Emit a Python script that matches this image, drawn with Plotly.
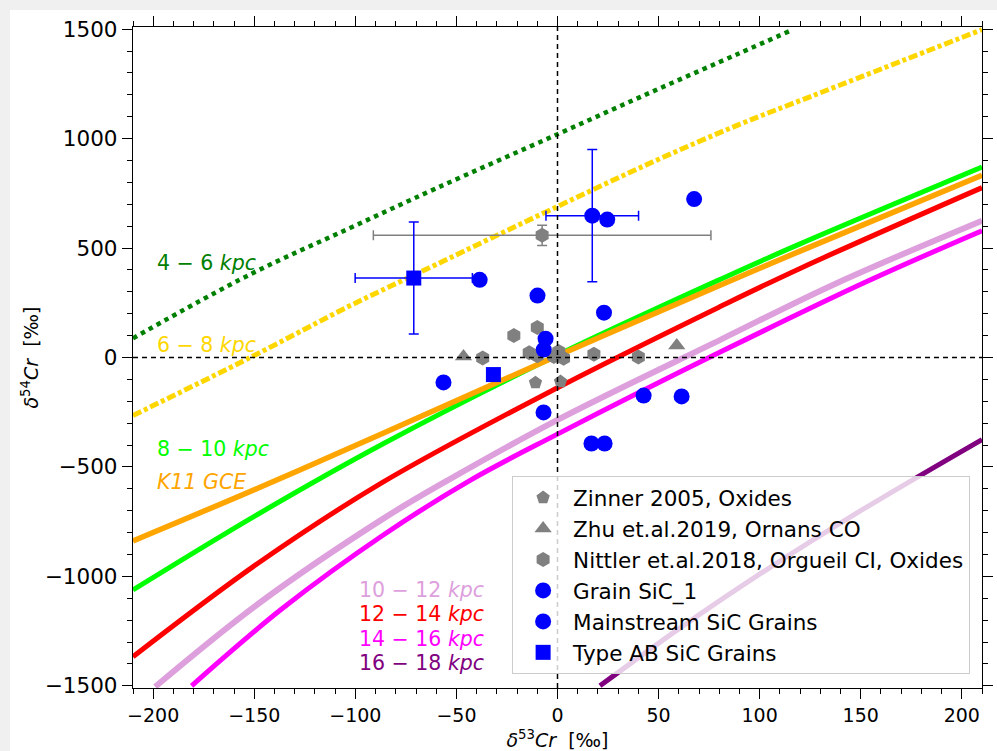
import plotly.graph_objects as go

# ---------------- data -----------------
kpc4_6_x = [-210, -152, -103, -60, 0, 47, 90, 115]
kpc4_6_y = [88, 380, 590, 773, 1020, 1215, 1390, 1492]

kpc6_8_x = [-210, -152, -103, -88, -60, 0, 47, 90, 126, 210]
kpc6_8_y = [-265, 0, 235, 302, 425, 690, 893, 1065, 1195, 1498]

kpc8_10_x = [-210, -148, -86, 0, 81, 120, 210]
kpc8_10_y = [-1062, -715, -393, 11, 359, 519, 870]

k11_x = [-210, -148, -86, 0, 81, 120, 210]
k11_y = [-838, -596, -345, 8, 332, 486, 833]

kpc12_14_x = [-210, -148, -87, 0, 81, 120, 210]
kpc12_14_y = [-1367, -939, -573, -138, 235, 407, 776]

kpc10_12_x = [-199, -148, -86, -55, 0, 81, 137, 210]
kpc10_12_y = [-1504, -1125, -735, -565, -285, 83, 335, 625]

kpc14_16_x = [-181, -136, -86, -43, 0, 81, 153, 210]
kpc14_16_y = [-1500, -1146, -810, -560, -350, 27, 347, 579]

kpc16_18_x = [21, 60, 100, 150, 210]
kpc16_18_y = [-1500, -1240, -990, -700, -375]

zinner_x = [-10.9, 1.5]
zinner_y = [-115, -110]

zhu_x = [-46.5, 59]
zhu_y = [5, 55]

nittler_x = [-7.6, -21.6, -10, -14, -10, 0.6, -1.8, 3, 18, -37, 40]
nittler_y = [558, 100, 137, 22, 8, 27, 5, -3, 15, -2, 2]
nittler_ex = [83.5, 0, 0, 0, 0, 0, 0, 0, 0, 0, 0]
nittler_ey = [46, 0, 0, 0, 0, 0, 0, 0, 0, 0, 0]

sic1_x = [17.2]
sic1_y = [648]
sic1_ex = [22.9]
sic1_ey = [302]

ms_x = [-38.5, -56.4, -9.9, -5.9, -6.8, -6.9, 16.8, 23.3, 42.6, 61.4, 23.0, 24.6, 67.6]
ms_y = [355, -114, 283, 86, 36, -251, -393, -393, -174, -178, 205, 630, 724]

ab_x = [-71.1, -31.7]
ab_y = [363, -78]
ab_ex = [29, 0]
ab_ey = [256, 0]

lab_text = ["4 − 6 <i>kpc</i>", "6 − 8 <i>kpc</i>", "8 − 10 <i>kpc</i>", "<i>K11 GCE</i>",
            "10 − 12 <i>kpc</i>", "12 − 14 <i>kpc</i>", "14 − 16 <i>kpc</i>", "16 − 18 <i>kpc</i>"]
lab_x = [-199, -199, -199, -199, -99, -99, -99, -99]
lab_y = [430, 59, -416, -567, -1061, -1171, -1285, -1395]
lab_col = ["green", "gold", "lime", "orange", "plum", "red", "magenta", "purple"]

FONT = "DejaVu Sans"

fig = go.Figure()

curves = [
    (kpc4_6_x, kpc4_6_y, "green", "dot", 4.5),
    (kpc6_8_x, kpc6_8_y, "gold", "9px,3px,4px,3px", 5),
    (kpc8_10_x, kpc8_10_y, "lime", "solid", 5),
    (k11_x, k11_y, "orange", "solid", 5.5),
    (kpc12_14_x, kpc12_14_y, "red", "solid", 5),
    (kpc10_12_x, kpc10_12_y, "plum", "solid", 6),
    (kpc14_16_x, kpc14_16_y, "magenta", "solid", 5),
    (kpc16_18_x, kpc16_18_y, "purple", "solid", 5),
]
for cx, cy, col, dash, w in curves:
    fig.add_trace(go.Scatter(x=cx, y=cy, mode="lines", showlegend=False,
                             line=dict(color=col, width=w, dash=dash, shape="spline", smoothing=1.0),
                             hoverinfo="skip"))

fig.add_shape(type="line", xref="x", yref="y", x0=-210, x1=210, y0=0, y1=0,
              line=dict(color="black", width=1.5, dash="5px,4px"))
fig.add_shape(type="line", xref="x", yref="y", x0=0, x1=0, y0=-1510, y1=1510,
              line=dict(color="black", width=1.5, dash="5px,4px"))

fig.add_trace(go.Scatter(x=zinner_x, y=zinner_y, mode="markers", name="Zinner 2005, Oxides",
                         legendgroup="g1",
                         marker=dict(symbol="pentagon", size=14, color="gray")))
fig.add_trace(go.Scatter(x=zhu_x, y=zhu_y, mode="markers", name="Zhu et.al.2019, Ornans CO",
                         legendgroup="g2",
                         marker=dict(symbol="triangle-up", size=15, color="gray")))
fig.add_trace(go.Scatter(x=nittler_x, y=nittler_y, mode="markers",
                         name="Nittler et.al.2018, Orgueil CI, Oxides", legendgroup="g3",
                         marker=dict(symbol="hexagon", size=15, color="gray"),
                         error_x=dict(type="data", array=nittler_ex, color="gray", thickness=1.5, width=5),
                         error_y=dict(type="data", array=nittler_ey, color="gray", thickness=1.5, width=5)))
fig.add_trace(go.Scatter(x=sic1_x, y=sic1_y, mode="markers", name="Grain SiC_1", legendgroup="g4",
                         marker=dict(symbol="circle", size=16, color="blue"),
                         error_x=dict(type="data", array=sic1_ex, color="blue", thickness=1.5, width=5),
                         error_y=dict(type="data", array=sic1_ey, color="blue", thickness=1.5, width=5)))
fig.add_trace(go.Scatter(x=ms_x, y=ms_y, mode="markers", name="Mainstream SiC Grains", legendgroup="g5",
                         marker=dict(symbol="circle", size=16, color="blue")))
fig.add_trace(go.Scatter(x=ab_x, y=ab_y, mode="markers", name="Type AB SiC Grains", legendgroup="g6",
                         marker=dict(symbol="square", size=15, color="blue"),
                         error_x=dict(type="data", array=ab_ex, color="blue", thickness=1.5, width=5),
                         error_y=dict(type="data", array=ab_ey, color="blue", thickness=1.5, width=5)))

for t, x, y, c in zip(lab_text, lab_x, lab_y, lab_col):
    fig.add_annotation(x=x, y=y, xref="x", yref="y", text=t, showarrow=False,
                       xanchor="left", yanchor="middle",
                       font=dict(family=FONT, size=20.5, color=c))

W, H = 997, 751
L, R, T, B = 133, 15, 27, 63
pw, ph = W - L - R, H - T - B
fig.add_shape(type="rect", xref="paper", yref="paper", layer="below",
              x0=(10 - L) / pw, x1=(W - L) / pw, y0=-(B) / ph, y1=(H - B - 10) / ph,
              fillcolor="white", line=dict(width=0))

axis_common = dict(showgrid=False, zeroline=False, showline=True, linecolor="black", linewidth=1.3,
                   mirror="ticks", ticks="outside", ticklen=10, tickwidth=1.3, tickcolor="black",
                   automargin=False)

fig.update_xaxes(range=[-210, 210], dtick=50, tick0=0,
                 tickfont=dict(family=FONT, size=19, color="black"),
                 minor=dict(dtick=10, ticks="outside", ticklen=5, tickwidth=1, tickcolor="black"),
                 title=dict(text="<i>δ</i><sup>53</sup><i>Cr</i>  [‰]", font=dict(family=FONT, size=19),
                            standoff=8),
                 **axis_common)
fig.update_yaxes(range=[-1510, 1510], dtick=500, tick0=0,
                 tickfont=dict(family=FONT, size=21.5, color="black"),
                 minor=dict(dtick=100, ticks="outside", ticklen=5, tickwidth=1, tickcolor="black"),
                 title=dict(text="<i>δ</i><sup>54</sup><i>Cr</i>  [‰]", font=dict(family=FONT, size=19),
                            standoff=1),
                 **axis_common)

fig.update_layout(
    width=W, height=H,
    margin=dict(l=L, r=R, t=T, b=B, pad=0, autoexpand=False),
    paper_bgcolor="#f0f0f0", plot_bgcolor="white",
    font=dict(family=FONT, size=19, color="black"),
    legend=dict(x=0.986, y=0.021, xanchor="right", yanchor="bottom",
                bgcolor="rgba(255,255,255,0.8)", bordercolor="#cccccc", borderwidth=1,
                font=dict(family=FONT, size=21.5), tracegroupgap=0, traceorder="grouped",
                itemwidth=50),
    showlegend=True,
)

page_css = ("document.documentElement.style.margin='0';document.body.style.margin='0';"
            "document.body.style.background='#f0f0f0';")

fig.write_html("out.html", config={"displayModeBar": False}, post_script=page_css)
